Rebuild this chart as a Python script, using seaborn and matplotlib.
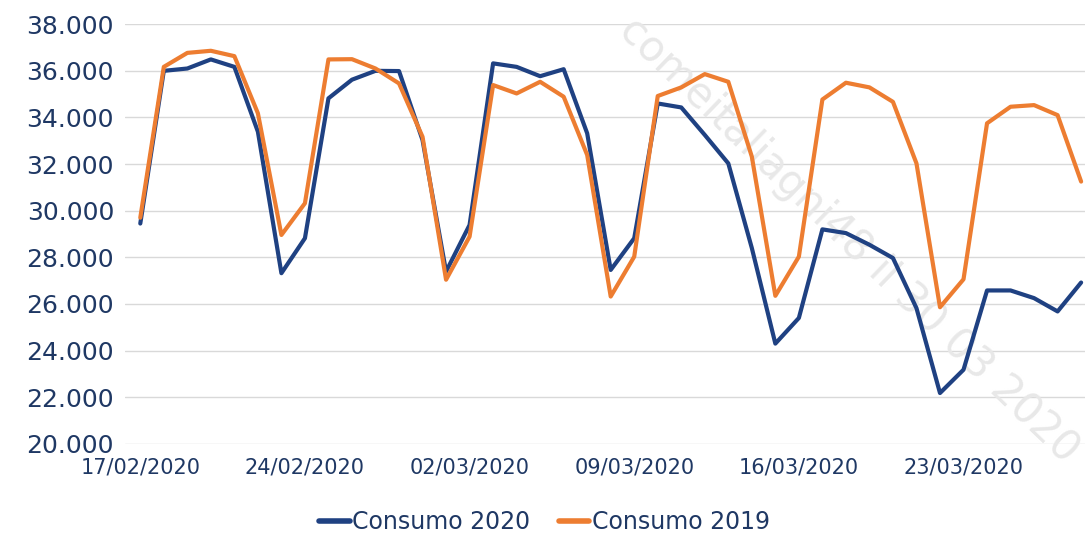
import pandas as pd
import matplotlib
matplotlib.use("Agg")
import matplotlib.pyplot as plt
import matplotlib.dates as mdates
from matplotlib.ticker import FuncFormatter
import seaborn as sns

# Daily consumption, 17/02 -> 28/03 (values in thousands)
start_date = "2020-02-17"
consumo_2020 = [29.45, 36.0, 36.1, 36.49, 36.17, 33.39, 27.32, 28.82, 34.82, 35.62,
                36.0, 35.99, 33.03, 27.39, 29.39, 36.32, 36.17, 35.77, 36.07, 33.32,
                27.46, 28.82, 34.6, 34.43, 33.25, 32.03, 28.4, 24.3, 25.4, 29.2,
                29.04, 28.54, 27.97, 25.82, 22.18, 23.18, 26.58, 26.58, 26.25, 25.68,
                26.92]
consumo_2019 = [29.7, 36.17, 36.77, 36.86, 36.63, 34.18, 28.96, 30.32, 36.49, 36.5,
                36.1, 35.46, 33.17, 27.04, 28.89, 35.39, 35.03, 35.53, 34.89, 32.39,
                26.32, 28.03, 34.92, 35.29, 35.86, 35.53, 32.32, 26.35, 28.03, 34.77,
                35.49, 35.29, 34.67, 32.03, 25.86, 27.06, 33.75, 34.46, 34.53, 34.1,
                31.25]
series_names = ["Consumo 2020", "Consumo 2019"]
tick_dates = ["2020-02-17", "2020-02-24", "2020-03-02", "2020-03-09", "2020-03-16", "2020-03-23"]
y_ticks = [20000, 22000, 24000, 26000, 28000, 30000, 32000, 34000, 36000, 38000]

dates = pd.date_range(start_date, periods=len(consumo_2020))
df = pd.concat([
    pd.DataFrame({"Data": dates, "Consumo": [v * 1000 for v in consumo_2020], "Serie": series_names[0]}),
    pd.DataFrame({"Data": dates, "Consumo": [v * 1000 for v in consumo_2019], "Serie": series_names[1]}),
])

sns.set_theme(style="white")
plt.rcParams["font.family"] = ["DejaVu Sans"]

text_col = "#1f3864"
palette = {series_names[0]: "#1f4182", series_names[1]: "#ed7d31"}

fig = plt.figure(figsize=(10.89, 5.38), dpi=100)
ax = fig.add_axes([0.115, 0.175, 0.881, 0.78])

sns.lineplot(data=df, x="Data", y="Consumo", hue="Serie", palette=palette,
             linewidth=3, ax=ax, legend=False, zorder=3)

# faint watermark, behind the lines
ax.text(0.78, 0.555, "comeitaliagni48 il 30 03 2020", rotation=-44, fontsize=30,
        color="#e8e8e8", ha="center", va="center", transform=fig.transFigure,
        zorder=1, clip_on=False)

ax.set_ylim(20000, 38000)
ax.set_yticks(y_ticks)
ax.yaxis.set_major_formatter(FuncFormatter(lambda v, p: f"{int(v):,}".replace(",", ".")))
ax.set_xlim(dates[0] - pd.Timedelta(days=0.64), dates[-1] + pd.Timedelta(days=0.15))
ax.set_xticks(pd.to_datetime(tick_dates))
ax.xaxis.set_major_formatter(mdates.DateFormatter("%d/%m/%Y"))
ax.grid(True, axis="y", color="#d9d9d9", linewidth=1)
ax.grid(False, axis="x")
ax.set_axisbelow(True)
for s in ax.spines.values():
    s.set_visible(False)
ax.tick_params(axis="y", labelsize=18, labelcolor=text_col, length=0, pad=8)
ax.tick_params(axis="x", labelsize=15, labelcolor=text_col, length=0, pad=10)
ax.set_xlabel("")
ax.set_ylabel("")
ax.patch.set_alpha(0)

handles = [plt.Line2D([0], [0], color=palette[n], lw=4, label=n) for n in series_names]
leg = fig.legend(handles=handles, loc="center", bbox_to_anchor=(0.5, 0.03), ncol=2,
                 frameon=False, fontsize=17, handlelength=1.3, handletextpad=0.1,
                 columnspacing=1.2)
for t in leg.get_texts():
    t.set_color(text_col)

fig.savefig("out.png", dpi=100)
